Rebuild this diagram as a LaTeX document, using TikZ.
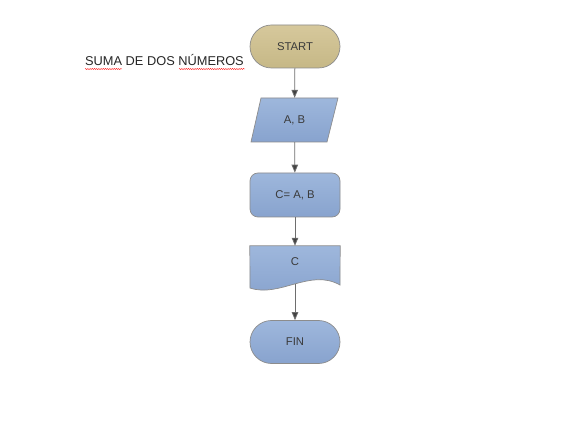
\documentclass[tikz,border=0pt]{standalone}
\usepackage{fontspec}
\setmainfont{Liberation Sans}
\usepackage{tikz}
\usetikzlibrary{arrows.meta,decorations.pathmorphing}

\definecolor{boxline}{HTML}{8C8C8C}
\definecolor{flowline}{HTML}{6E6E6E}
\definecolor{boxtext}{HTML}{3A3A3A}

\begin{document}
\begin{tikzpicture}[x=1pt,y=-1pt,
  blue box/.style={draw=boxline, line width=.7pt, top color={rgb,255:red,158;green,183;blue,220}, bottom color={rgb,255:red,136;green,163;blue,206}, text=boxtext, font=\fontsize{11.3}{13}\selectfont},
  terminal/.style={blue box, rectangle, rounded corners=21.5pt, minimum width=90pt, minimum height=43pt},
  process/.style={blue box, rectangle, rounded corners=8pt, minimum width=90pt, minimum height=44pt},
  plain box/.style={rectangle, inner sep=0pt, text=boxtext, font=\fontsize{11.3}{13}\selectfont},
  flow/.style={flowline, line width=.8pt, -{Triangle[width=6.5pt,length=8pt,fill=flowline!60!black]}},
  spell/.style={red, line width=.35pt, decorate, decoration={snake, amplitude=.55pt, segment length=2.2pt}}]
\useasboundingbox[fill=white] (0,0) rectangle (586,427);

% Title with the spell-check marks
\node[anchor=base west, inner sep=0pt, text=black!85, font=\fontsize{12.8}{14}\selectfont] (title) at (85,66) {SUMA DE DOS NÚMEROS};
\draw[spell] (85,69) -- (122,69);
\draw[spell] (179,69) -- (245,69);

% Shapes of the flow
\node[terminal, top color={rgb,255:red,214;green,200;blue,156}, bottom color={rgb,255:red,198;green,184;blue,134}] (start) at (295,46.5) {START};
\node[plain box, minimum width=87pt, minimum height=44pt] (read) at (294.5,120) {};
\node[process] (sum) at (295,195) {C= A, B};
\node[plain box, minimum width=90pt, minimum height=42pt] (out) at (295,267) {};
\node[terminal] (fin) at (295,342) {FIN};

% Parallelogram for the input
\draw[blue box] (261,98) -- (338,98) -- (327,142) -- (251,142) -- cycle;
\node[plain box] (readtext) at (294.5,120) {A, B};

% Document shape for the output
\draw[blue box] (out.north west) -- (out.north east) -- (340,285)
  .. controls (310,268) and (280,298) .. (250,288) -- cycle;
\node[plain box] (outtext) at (295,262) {C};
\coordinate (outbot) at (295,284);

% Connectors
\draw[flow] (start) -- (read);
\draw[flow] (read) -- (sum);
\draw[flow] (sum) -- (out.north);
\draw[flow] (outbot) -- (fin);

\end{tikzpicture}
\end{document}
